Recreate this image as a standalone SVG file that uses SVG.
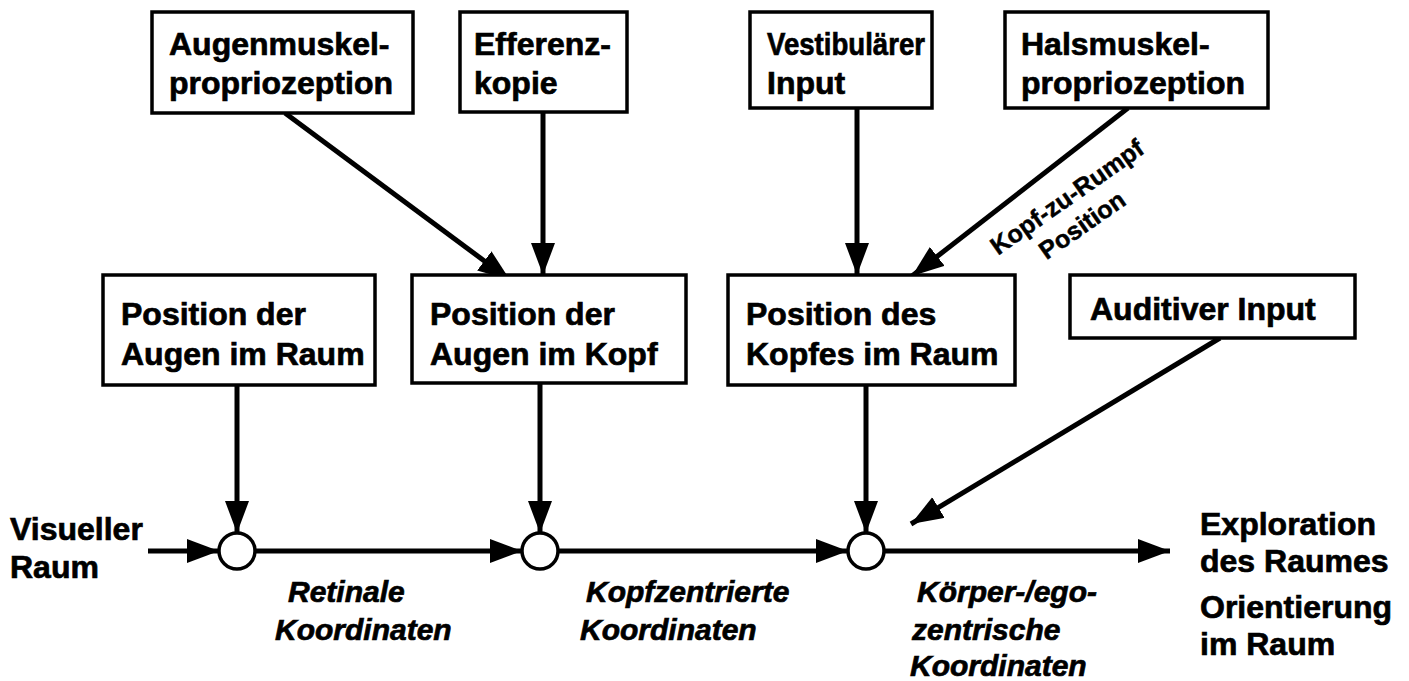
<svg xmlns="http://www.w3.org/2000/svg" width="1409" height="681" viewBox="0 0 1409 681">
<defs>
<style>
.box{fill:#fff;stroke:#000;stroke-width:3.5}
.t{font-family:"Liberation Sans",Arial,sans-serif;font-weight:bold;font-size:32px;fill:#000;stroke:#000;stroke-width:0.7}
.i{font-family:"Liberation Sans",Arial,sans-serif;font-weight:bold;font-style:italic;font-size:30px;fill:#000;stroke:#000;stroke-width:0.7}
.r{font-family:"Liberation Sans",Arial,sans-serif;font-weight:bold;font-size:25px;fill:#000;stroke:#000;stroke-width:0.5}
.c{fill:#fff;stroke:#000;stroke-width:3.5}
.a{stroke:#000;stroke-width:5;fill:none;marker-end:url(#ah)}
</style>
<marker id="ah" markerUnits="userSpaceOnUse" markerWidth="34" markerHeight="26" refX="32" refY="12" orient="auto">
<path d="M0,0 L32,12 L0,24 z" fill="#000"/>
</marker>
</defs>
<rect width="1409" height="681" fill="#fff"/>
<g id="connectors">
<line class="a" x1="285" y1="113" x2="510" y2="280"/>
<line class="a" x1="543" y1="112" x2="543" y2="275"/>
<line class="a" x1="857" y1="108" x2="857" y2="275"/>
<line class="a" x1="1128" y1="108" x2="912" y2="276"/>
<line class="a" x1="237" y1="385" x2="237" y2="533"/>
<line class="a" x1="540" y1="383" x2="540" y2="533"/>
<line class="a" x1="866" y1="385" x2="866" y2="533"/>
<line class="a" x1="1220" y1="338" x2="911" y2="524"/>
<line class="a" x1="148" y1="551" x2="219" y2="551"/>
<line class="a" x1="255" y1="551" x2="522" y2="551"/>
<line class="a" x1="558" y1="551" x2="848" y2="551"/>
<line class="a" x1="884" y1="551" x2="1170" y2="551"/>
<text class="r" transform="translate(1072,204) rotate(-35)" text-anchor="middle">Kopf-zu-Rumpf</text>
<text class="r" transform="translate(1087,232) rotate(-35)" text-anchor="middle">Position</text>
</g>
<g id="n-augenmuskel">
<rect class="box" x="152" y="12" width="261" height="101"/>
<text class="t" x="169" y="55">Augenmuskel-</text>
<text class="t" x="169" y="94">propriozeption</text>
</g>
<g id="n-efferenz">
<rect class="box" x="460" y="12" width="167" height="100"/>
<text class="t" x="474" y="55">Efferenz-</text>
<text class="t" x="474" y="94">kopie</text>
</g>
<g id="n-vestibulaer">
<rect class="box" x="750" y="12" width="182" height="96"/>
<text class="t" x="767" y="55" textLength="158" lengthAdjust="spacingAndGlyphs">Vestibulärer</text>
<text class="t" x="767" y="94">Input</text>
</g>
<g id="n-halsmuskel">
<rect class="box" x="1005" y="12" width="263" height="96"/>
<text class="t" x="1021" y="55">Halsmuskel-</text>
<text class="t" x="1021" y="94">propriozeption</text>
</g>
<g id="n-augen-raum">
<rect class="box" x="103" y="275" width="272" height="110"/>
<text class="t" x="121" y="325">Position der</text>
<text class="t" x="121" y="365">Augen im Raum</text>
</g>
<g id="n-augen-kopf">
<rect class="box" x="412" y="275" width="274" height="108"/>
<text class="t" x="430" y="325">Position der</text>
<text class="t" x="430" y="365">Augen im Kopf</text>
</g>
<g id="n-kopf-raum">
<rect class="box" x="728" y="275" width="287" height="110"/>
<text class="t" x="746" y="325">Position des</text>
<text class="t" x="746" y="365">Kopfes im Raum</text>
</g>
<g id="n-auditiv">
<rect class="box" x="1070" y="275" width="285" height="63"/>
<text class="t" x="1090" y="320">Auditiver Input</text>
</g>
<g id="n-sum1"><circle class="c" cx="237" cy="551" r="18"/></g>
<g id="n-sum2"><circle class="c" cx="540" cy="551" r="18"/></g>
<g id="n-sum3"><circle class="c" cx="866" cy="551" r="18"/></g>
<g id="n-visueller">
<text class="t" x="10" y="540">Visueller</text>
<text class="t" x="10" y="578">Raum</text>
</g>
<g id="l-retinal">
<text class="i" x="288" y="602">Retinale</text>
<text class="i" x="275" y="640">Koordinaten</text>
</g>
<g id="l-kopfzentriert">
<text class="i" x="586" y="602">Kopfzentrierte</text>
<text class="i" x="580" y="640">Koordinaten</text>
</g>
<g id="l-koerper">
<text class="i" x="917" y="602">Körper-/ego-</text>
<text class="i" x="912" y="640">zentrische</text>
<text class="i" x="910" y="676">Koordinaten</text>
</g>
<g id="n-output">
<text class="t" x="1200" y="535">Exploration</text>
<text class="t" x="1200" y="572">des Raumes</text>
<text class="t" x="1200" y="618">Orientierung</text>
<text class="t" x="1200" y="655">im Raum</text>
</g>
</svg>
